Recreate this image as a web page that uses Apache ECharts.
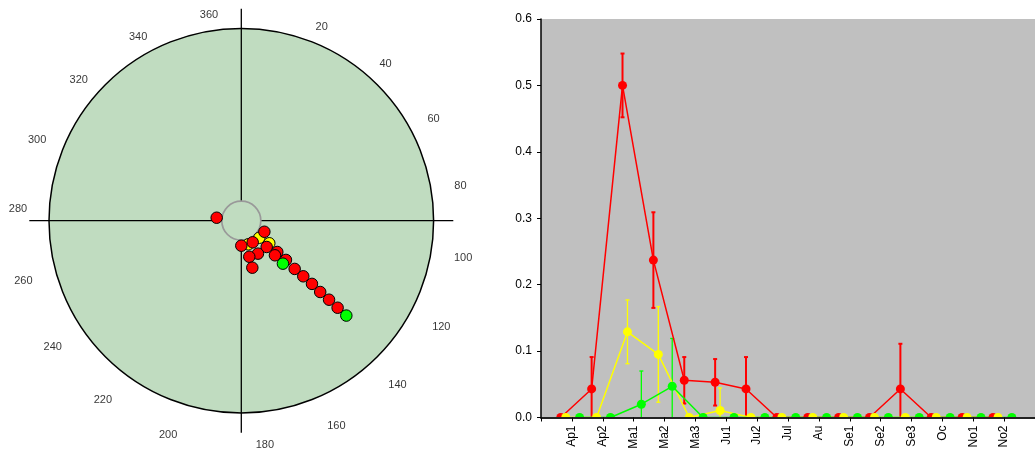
<!DOCTYPE html>
<html>
<head>
<meta charset="utf-8">
<script src="https://cdn.jsdelivr.net/npm/echarts@6/dist/echarts.min.js"></script>
<style>
  html, body { margin: 0; padding: 0; background: #ffffff; }
  #chart { width: 1035px; height: 454px; }
</style>
</head>
<body>
<div id="chart"></div>
<script>
// ---- Dial: dots stacked outward from the hub, each [radius (fraction of dial), bearing in degrees]
const redDots = [
  [0.129, 276.9], [0.133, 115.6], [0.127, 152.2], [0.130, 180.0],
  [0.190, 136.0], [0.192, 153.2], [0.192, 167.5],
  [0.248, 131.0], [0.251, 135.8], [0.251, 166.8],
  [0.309, 131.3], [0.374, 132.1], [0.433, 131.9], [0.493, 131.8],
  [0.553, 132.1], [0.614, 132.0], [0.675, 132.1]
];
const yellowDots = [
  [0.129, 133.4], [0.187, 128.9], [0.128, 163.5]
];
const greenDots = [
  [0.311, 135.9], [0.736, 132.1]
];
const bearingTicks = [20, 40, 60, 80, 100, 120, 140, 160, 180, 200, 220, 240, 260, 280, 300, 320, 340, 360];

// ---- Time series: means and error half-widths per period
const periods = ['Ap1', 'Ap2', 'Ma1', 'Ma2', 'Ma3', 'Ju1', 'Ju2', 'Jul', 'Au', 'Se1', 'Se2', 'Se3', 'Oc', 'No1', 'No2'];
const redMean    = [0, 0.043, 0.500, 0.237, 0.056, 0.053, 0.043, 0, 0, 0, 0, 0.043, 0, 0, 0];
const redErr     = [0, 0.048, 0.048, 0.072, 0.035, 0.035, 0.048, 0, 0, 0, 0, 0.068, 0, 0, 0];
const yellowMean = [0, 0, 0.129, 0.095, 0, 0.0105, 0, 0, 0, 0, 0, 0, 0, 0, 0];
const yellowErr  = [0, 0, 0.048, 0.072, 0, 0.034, 0, 0, 0, 0, 0, 0, 0, 0, 0];
const greenMean  = [0, 0, 0.020, 0.047, 0, 0, 0, 0, 0, 0, 0, 0, 0, 0, 0];
const greenErr   = [0, 0, 0.050, 0.072, 0, 0, 0, 0, 0, 0, 0, 0, 0, 0, 0];
const yTicks = [0, 0.1, 0.2, 0.3, 0.4, 0.5, 0.6];

// ---- Layout
const FONT = "'Liberation Sans', Arial, sans-serif";
const W = 1035, H = 454;
const DIAL_CENTER = [241.3, 220.7];
const DIAL_R = 192.3;
const CROSS_R = 212;
const HUB_SIZE = 39;
// bearing labels sit on a slightly flattened ring round the dial
const LABEL_CENTER = [241, 229.5];
const LABEL_RX = 224, LABEL_RY = 217;
const GRID = { left: 541, top: 19, right: 0, bottom: 36.5 };
// sampling offset of each series inside its period slot
const SHIFT = { red: -0.36, yellow: -0.2, green: 0.25 };

const COLORS = { red: '#FF0000', yellow: '#FFFF00', green: '#00FF00' };
const DIAL_FILL = '#C0DCC0';

// the printed bearing scale runs a little short on each half of the dial
function labelBearing(t) {
  return t * 3 / Math.PI + (t > 180 ? 8 : 2);
}

function dotSeries(data, color) {
  return {
    type: 'scatter', coordinateSystem: 'polar', polarIndex: 0,
    data: data, symbol: 'circle', symbolSize: 11.5, z: 4, silent: true,
    itemStyle: { color: color, borderColor: '#000', borderWidth: 1, opacity: 1 }
  };
}

function lineSeries(name, mean, shift) {
  return {
    name: name, type: 'line', xAxisIndex: 0, yAxisIndex: 0,
    data: mean.map((v, i) => [i + 1 + shift, v]),
    symbol: 'circle', symbolSize: 9, showAllSymbol: true, z: 3,
    lineStyle: { color: COLORS[name], width: 1.5 },
    itemStyle: { color: COLORS[name], borderWidth: 0 }
  };
}

function errorSeries(name, mean, err, shift, width) {
  const color = COLORS[name];
  return {
    type: 'custom', xAxisIndex: 0, yAxisIndex: 0, z: 2, silent: true,
    dimensions: ['x', 'y', 'e'],
    encode: { x: 0, y: 1 },
    data: mean.map((v, i) => [i + 1 + shift, v, err[i]]).filter(d => d[2] > 0),
    renderItem: function (params, api) {
      const x = api.value(0), y = api.value(1), e = api.value(2);
      const top = api.coord([x, y + e]);
      const bot = api.coord([x, Math.max(0, y - e)]);
      const style = { stroke: color, lineWidth: width };
      const kids = [
        { type: 'line', shape: { x1: top[0], y1: top[1], x2: bot[0], y2: bot[1] }, style: style },
        { type: 'line', shape: { x1: top[0] - 2, y1: top[1], x2: top[0] + 2, y2: top[1] }, style: style }
      ];
      if (y - e > 0) {
        kids.push({ type: 'line', shape: { x1: bot[0] - 2, y1: bot[1], x2: bot[0] + 2, y2: bot[1] }, style: style });
      }
      return { type: 'group', children: kids };
    }
  };
}

const chart = echarts.init(document.getElementById('chart'), null, { renderer: 'canvas' });

const option = {
  animation: false,
  backgroundColor: '#ffffff',
  textStyle: { fontFamily: FONT },
  polar: [
    { center: DIAL_CENTER, radius: DIAL_R },
    { center: DIAL_CENTER, radius: CROSS_R }
  ],
  angleAxis: [
    {
      polarIndex: 0, type: 'value', min: 0, max: 360, startAngle: 90, clockwise: true, z: 1,
      axisLine: { show: true, lineStyle: { color: '#000', width: 1.5 } },
      axisTick: { show: false }, axisLabel: { show: false }, splitLine: { show: false }
    },
    {
      polarIndex: 1, type: 'value', min: 0, max: 360, interval: 90, startAngle: 90, clockwise: true, z: 1,
      axisLine: { show: false }, axisTick: { show: false }, axisLabel: { show: false },
      splitLine: { show: true, lineStyle: { color: '#000', width: 1.3 } }
    }
  ],
  radiusAxis: [
    {
      polarIndex: 0, type: 'value', min: 0, max: 1, interval: 1, z: 0,
      axisLine: { show: false }, axisTick: { show: false }, axisLabel: { show: false },
      splitLine: { show: false },
      splitArea: { show: true, areaStyle: { color: [DIAL_FILL] } }
    },
    { polarIndex: 1, type: 'value', min: 0, max: 1, show: false }
  ],
  grid: [
    {
      left: GRID.left, top: GRID.top, right: GRID.right, bottom: GRID.bottom,
      show: true, backgroundColor: '#C0C0C0', borderWidth: 0, containLabel: false
    },
    {
      // frame for the bearing labels
      left: LABEL_CENTER[0] - LABEL_RX, top: LABEL_CENTER[1] - LABEL_RY,
      width: 2 * LABEL_RX, height: 2 * LABEL_RY, show: false
    }
  ],
  xAxis: [
    {
      type: 'value', gridIndex: 0, min: 0, max: periods.length + 1, interval: 1, z: 6,
      axisLine: { show: true, onZero: false, lineStyle: { color: '#222', width: 2 } },
      axisTick: { show: true, inside: false, length: 4, lineStyle: { color: '#000', width: 1 } },
      axisLabel: {
        show: true, rotate: 90, margin: 8, color: '#000', fontSize: 12, fontFamily: FONT,
        formatter: v => (v >= 1 && v <= periods.length) ? periods[v - 1] : ''
      },
      splitLine: { show: false }
    },
    { type: 'value', gridIndex: 1, min: -1, max: 1, show: false }
  ],
  yAxis: [
    {
      type: 'value', gridIndex: 0, min: yTicks[0], max: yTicks[yTicks.length - 1], interval: 0.1, z: 6,
      axisLine: { show: true, lineStyle: { color: '#000', width: 1.5 } },
      axisTick: { show: true, inside: false, length: 4, lineStyle: { color: '#000', width: 1 } },
      axisLabel: { show: true, margin: 9, color: '#000', fontSize: 12, fontFamily: FONT, formatter: v => v.toFixed(1) },
      splitLine: { show: false }
    },
    { type: 'value', gridIndex: 1, min: -1, max: 1, show: false }
  ],
  graphic: [{
    // white band under the plot floor so markers sitting on zero show as domes
    type: 'rect', z: 5, silent: true,
    shape: { x: GRID.left, y: H - GRID.bottom, width: W - GRID.left - GRID.right, height: GRID.bottom },
    style: { fill: '#ffffff' }
  }],
  series: [
    // hub in the middle of the dial
    {
      type: 'scatter', coordinateSystem: 'polar', polarIndex: 0, data: [[0, 0]],
      symbol: 'circle', symbolSize: HUB_SIZE, z: 3, silent: true,
      itemStyle: { color: DIAL_FILL, borderColor: '#999999', borderWidth: 1.7, opacity: 1 }
    },
    dotSeries(yellowDots, COLORS.yellow),
    dotSeries(redDots, COLORS.red),
    dotSeries(greenDots, COLORS.green),
    // bearing labels around the dial
    {
      type: 'scatter', xAxisIndex: 1, yAxisIndex: 1, silent: true, z: 4,
      data: bearingTicks.map(t => {
        const a = labelBearing(t) * Math.PI / 180;
        return { name: String(t), value: [Math.sin(a), Math.cos(a)] };
      }),
      symbolSize: 1, itemStyle: { color: 'rgba(0,0,0,0)' },
      label: { show: true, position: 'inside', formatter: '{b}', color: '#000', fontSize: 11, fontFamily: FONT }
    },
    errorSeries('red', redMean, redErr, SHIFT.red, 2),
    lineSeries('red', redMean, SHIFT.red),
    errorSeries('yellow', yellowMean, yellowErr, SHIFT.yellow, 1.3),
    lineSeries('yellow', yellowMean, SHIFT.yellow),
    errorSeries('green', greenMean, greenErr, SHIFT.green, 1.3),
    lineSeries('green', greenMean, SHIFT.green)
  ]
};

chart.setOption(option);
</script>
</body>
</html>
